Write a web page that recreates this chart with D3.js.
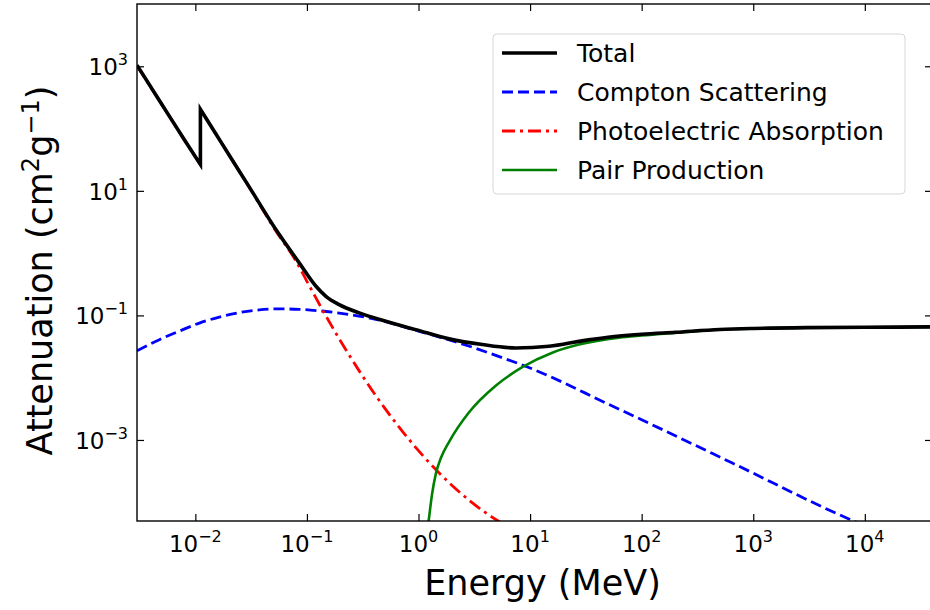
<!DOCTYPE html>
<html>
<head>
<meta charset="utf-8">
<script src="https://cdn.jsdelivr.net/npm/d3@7"></script>
<style>
body { margin: 0; background: #fff; }
text { font-family: "DejaVu Sans", sans-serif; fill: #000; }
</style>
</head>
<body>
<div id="chart"></div>
<script>
// Energies in MeV, attenuation in cm^2/g
// the K edge appears as two points at the same energy
var total_E  = [0.003, 0.005, 0.008, 0.0111, 0.0111, 0.015, 0.02, 0.03, 0.0527, 0.0853, 0.1205, 0.148, 0.1946, 0.294, 0.475, 0.946, 1.88, 3.73, 7.43, 14.8, 30, 50, 100, 200, 500, 1000, 3000, 10000, 40000];
var total_mu = [1040, 246, 65.5, 26.5, 204, 86.5, 38, 12, 2.39, 0.698, 0.294, 0.203, 0.149, 0.1096, 0.0834, 0.0591, 0.042, 0.034, 0.030, 0.0319, 0.0394, 0.0446, 0.0497, 0.0535, 0.0593, 0.0617, 0.0637, 0.0645, 0.0654];

var compton_E  = [0.003, 0.00476, 0.00719, 0.01086, 0.0164, 0.0248, 0.0374, 0.0565, 0.0853, 0.1288, 0.1946, 0.385, 1, 2.45, 5.6, 10, 20, 41.4, 100, 643, 6870, 10000];
var compton_mu = [0.027, 0.0408, 0.056, 0.0753, 0.094, 0.111, 0.1227, 0.1273, 0.1254, 0.1186, 0.1089, 0.089, 0.056, 0.035, 0.021, 0.0143, 0.0083, 0.00443, 0.00211, 0.00043, 0.000056, 0.000042];

var photo_E  = [0.003, 0.005, 0.008, 0.0111, 0.0111, 0.015, 0.02, 0.03, 0.0527, 0.08, 0.1, 0.12, 0.15, 0.2, 0.3, 0.5, 0.7, 1, 1.5, 2, 3, 5, 6];
var photo_mu = [1013, 246, 65, 26.4, 204, 86.4, 38, 11.9, 2.26, 0.74, 0.353, 0.193, 0.094, 0.0389, 0.01217, 0.00321, 0.001456, 0.000673, 0.000307, 0.000186, 0.0000997, 0.0000519, 0.0000427];

var pair_E  = [1.1, 1.245, 1.32, 1.43, 1.59, 1.88, 2.84, 4.92, 8.51, 15.8, 27.4, 62.5, 100, 200, 500, 1000, 3000, 10000, 40000];
var pair_mu = [0.00001, 0.000058, 0.0001315, 0.000286, 0.000518, 0.000935, 0.00279, 0.00743, 0.01475, 0.0252, 0.034, 0.044, 0.0476, 0.0524, 0.0589, 0.0614, 0.0636, 0.0645, 0.0654];

var x_ticks = [-2, -1, 0, 1, 2, 3, 4];
var y_ticks = [3, 1, -1, -3];
var legend_labels = ["Total", "Compton Scattering", "Photoelectric Absorption", "Pair Production"];

var margin = {top: 4, right: -2, bottom: 89, left: 137};
var width = 930 - margin.left - margin.right;
var height = 610 - margin.top - margin.bottom;

var x = d3.scaleLog().domain([0.003, 40000]).range([0, width]);
var y = d3.scaleLog().domain([5e-5, 1e4]).range([height, 0]);

var svg = d3.select("#chart").append("svg")
    .attr("width", 930)
    .attr("height", 610);

var vis = svg.append("g")
    .attr("transform", "translate(" + margin.left + "," + margin.top + ")");

vis.append("clipPath")
    .attr("id", "plot_clip")
    .append("rect")
    .attr("width", width)
    .attr("height", height);

// ticks on all four sides, pointing inwards
function styleAxis(g) {
    g.select(".domain").remove();
    g.selectAll(".tick line").attr("stroke", "#000").attr("stroke-width", 1.2);
    g.selectAll(".tick text").remove();
}
var xvals = x_ticks.map(function (e) { return Math.pow(10, e); });
var yvals = y_ticks.map(function (e) { return Math.pow(10, e); });

vis.append("g").attr("transform", "translate(0," + height + ")")
    .call(d3.axisBottom(x).tickValues(xvals).tickSize(-7)).call(styleAxis);
vis.append("g")
    .call(d3.axisTop(x).tickValues(xvals).tickSize(-7)).call(styleAxis);
vis.append("g")
    .call(d3.axisLeft(y).tickValues(yvals).tickSize(-7)).call(styleAxis);
vis.append("g").attr("transform", "translate(" + width + ",0)")
    .call(d3.axisRight(y).tickValues(yvals).tickSize(-7)).call(styleAxis);

// tick labels as 10^n
function sup(n) { return n < 0 ? "\u2212" + (-n) : "" + n; }

var xl = vis.append("g").selectAll("text").data(x_ticks).enter().append("text")
    .attr("x", function (d) { return x(Math.pow(10, d)); })
    .attr("y", height + 31)
    .attr("text-anchor", "middle")
    .style("font-size", "23px");
xl.append("tspan").text("10");
xl.append("tspan").attr("dy", -10).style("font-size", "16px").text(function (d) { return sup(d); });

var yl = vis.append("g").selectAll("text").data(y_ticks).enter().append("text")
    .attr("x", -9)
    .attr("y", function (d) { return y(Math.pow(10, d)) + 9; })
    .attr("text-anchor", "end")
    .style("font-size", "23px");
yl.append("tspan").text("10");
yl.append("tspan").attr("dy", -10).style("font-size", "16px").text(function (d) { return sup(d); });

// curves
var valueline = d3.line()
    .x(function (d) { return x(d[0]); })
    .y(function (d) { return y(d[1]); })
    .curve(d3.curveMonotoneX);

// smooth pieces, joined by a straight step wherever the energy repeats (absorption edge)
function edgePath(pts) {
    var pieces = [[pts[0]]];
    for (var i = 1; i < pts.length; i++) {
        if (pts[i][0] <= pts[i - 1][0]) pieces.push([]);
        pieces[pieces.length - 1].push(pts[i]);
    }
    return pieces.map(function (p, i) {
        var d = valueline(p);
        return i === 0 ? d : "L" + d.slice(1);
    }).join("");
}

var plot = vis.append("g").attr("clip-path", "url(#plot_clip)");

var series = [
    {E: total_E, mu: total_mu, color: "#000000", w: 3.6, dash: null},
    {E: compton_E, mu: compton_mu, color: "#0000ff", w: 2.8, dash: "11,5"},
    {E: photo_E, mu: photo_mu, color: "#ff0000", w: 2.8, dash: "13,5,3,5"},
    {E: pair_E, mu: pair_mu, color: "#008000", w: 2.6, dash: null}
];

// total goes on top
[1, 2, 3, 0].forEach(function (k) {
    var s = series[k];
    plot.append("path")
        .attr("d", edgePath(d3.zip(s.E, s.mu)))
        .attr("fill", "none")
        .attr("stroke", s.color)
        .attr("stroke-width", s.w)
        .attr("stroke-linejoin", "miter")
        .attr("stroke-dasharray", s.dash);
});

// frame
vis.append("rect")
    .attr("width", width)
    .attr("height", height)
    .attr("fill", "none")
    .attr("stroke", "#000")
    .attr("stroke-width", 1.4);

// legend
var legend = vis.append("g").attr("transform", "translate(" + (493 - margin.left) + "," + (34 - margin.top) + ")");
legend.append("rect")
    .attr("width", 412)
    .attr("height", 160)
    .attr("rx", 4)
    .attr("fill", "#fff")
    .attr("fill-opacity", 0.8)
    .attr("stroke", "#d6d6d6")
    .attr("stroke-width", 1);

legend_labels.forEach(function (label, i) {
    var ly = 19 + i * 39;
    var s = series[i];
    legend.append("line")
        .attr("x1", 9).attr("x2", 64)
        .attr("y1", ly).attr("y2", ly)
        .attr("stroke", s.color)
        .attr("stroke-width", s.w)
        .attr("stroke-dasharray", s.dash);
    legend.append("text")
        .attr("x", 84)
        .attr("y", ly + 9)
        .style("font-size", "25px")
        .text(label);
});

// axis titles
vis.append("text")
    .attr("x", width / 2 + 8)
    .attr("y", height + 74)
    .attr("text-anchor", "middle")
    .style("font-size", "35px")
    .text("Energy (MeV)");

var yt = vis.append("text")
    .attr("transform", "translate(" + (52 - margin.left) + "," + (height / 2 + 8) + ") rotate(-90)")
    .attr("text-anchor", "middle")
    .style("font-size", "35px");
yt.append("tspan").text("Attenuation (cm");
yt.append("tspan").attr("dy", -13).style("font-size", "24px").text("2");
yt.append("tspan").attr("dy", 13).text("g");
yt.append("tspan").attr("dy", -13).style("font-size", "24px").text("\u22121");
yt.append("tspan").attr("dy", 13).text(")");
</script>
</body>
</html>
